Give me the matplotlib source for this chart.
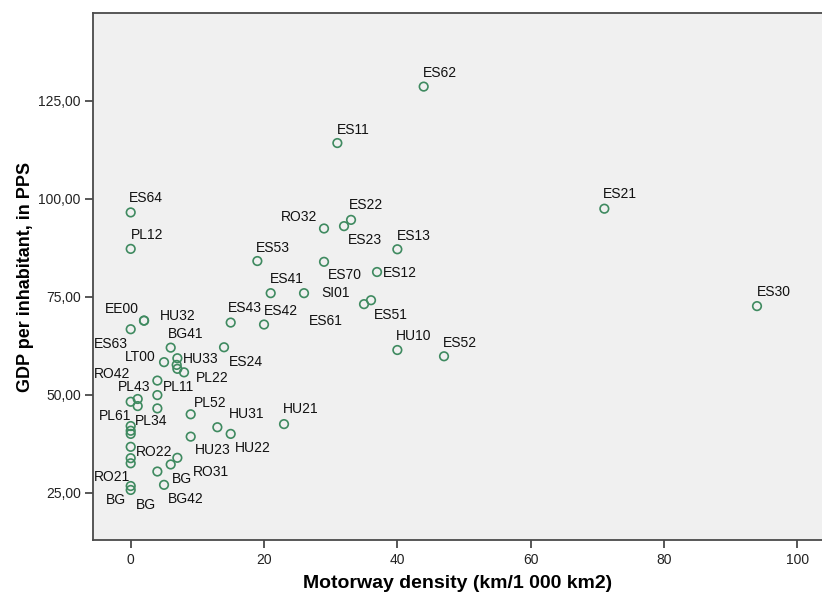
import matplotlib
matplotlib.use("Agg")
import matplotlib.pyplot as plt
from matplotlib.ticker import FuncFormatter, FixedLocator

# ---- data (motorway density, GDP per inhabitant in PPS) ----
regions = ["ES62", "ES11", "ES21", "ES30", "ES22", "ES23", "RO32", "ES13", "ES53", "ES70",
           "ES12", "ES41", "SI01", "ES51", "ES61", "ES43", "ES42", "HU10", "ES52", "ES64",
           "PL12", "EE00", "HU32", "ES63", "BG41", "ES24", "LT00", "HU33", "", "",
           "PL22", "RO42", "PL11", "PL43", "PL61", "PL34", "", "PL52", "HU31", "HU21",
           "HU23", "HU22", "", "", "", "RO22", "", "RO21", "RO31", "BG",
           "", "BG42", "BG", "BG"]
motorway_density = [43.95, 31.0, 71.05, 93.95, 33.05, 32.0, 29.0, 40.0, 19.0, 29.0,
                    36.95, 21.0, 26.0, 36.05, 35.0, 15.0, 20.0, 40.0, 47.0, 0.0,
                    0.0, 2.0, 2.0, 0.0, 6.0, 14.0, 5.0, 7.0, 6.9, 7.0,
                    8.0, 4.0, 4.0, 1.05, 0.0, 1.05, 4.0, 9.0, 13.0, 23.0,
                    9.0, 15.0, 0.0, 0.0, 0.0, 0.0, 0.0, 0.0, 7.0, 6.0,
                    4.0, 5.0, 0.0, 0.0]
gdp_pps = [128.6, 114.2, 97.45, 72.6, 94.6, 93.0, 92.4, 87.1, 84.1, 83.9,
           81.3, 75.9, 75.9, 74.1, 73.1, 68.4, 67.9, 61.4, 59.8, 96.5,
           87.2, 68.9, 68.9, 66.7, 62.0, 62.1, 58.3, 59.3, 57.6, 56.6,
           55.7, 53.6, 49.9, 48.9, 48.2, 47.1, 46.5, 45.0, 41.7, 42.5,
           39.3, 40.0, 42.0, 40.8, 40.0, 36.7, 33.8, 32.5, 33.9, 32.2,
           30.4, 27.0, 26.7, 25.7]

x_ticks = [0, 20, 40, 60, 80, 100]
y_ticks = [25, 50, 75, 100, 125]

# label placement (pixel offsets of label from its point: left edge, cap-centre; y up)
label_dx = [-0.4, -0.6, -1.0, -0.3, -1.7, 3.7, -43.3, -0.6, -1.3, 4.3,
            5.7, -0.7, 17.7, 3.3, -55.0, -2.4, -0.4, -1.6, -1.3, -1.4,
            0.0, -39.0, 16.0, -36.7, -2.4, 4.6, -39.0, 5.4, 0, 0,
            11.7, -63.3, 5.4, -19.4, -31.7, -2.7, 0, 3.6, 12.0, -1.6,
            4.3, 4.3, 0, 0, 0, 5.0, 0, -36.7, 16.0, 1.0,
            0, 4.3, -25.0, 5.0]
label_dy = [15.0, 14.0, 15.4, 15.3, 15.4, -13.0, 12.6, 14.3, 14.3, -12.6,
            0.0, 15.0, 1.0, -13.7, -16.0, 15.4, 15.0, 14.7, 14.6, 15.0,
            14.7, 12.4, 5.7, -13.4, 15.0, -13.7, 6.3, 0.0, 0, 0,
            -5.0, 7.4, 9.0, 13.0, -13.3, -14.0, 0, 12.0, 14.6, 15.7,
            -12.6, -12.7, 0, 0, 0, -4.0, 0, -13.0, -13.0, -13.3,
            0, -13.3, -13.3, -14.0]

plt.rcParams['font.family'] = ['Liberation Sans', 'DejaVu Sans']

W, H = 822, 596
fig = plt.figure(figsize=(W / 100, H / 100), dpi=100)
fig.patch.set_facecolor('white')
left_px, right_px, top_px, bottom_px = 93.3, 822.0, 13.3, 540.0
ax = fig.add_axes([left_px / W, 1 - bottom_px / H,
                   (right_px - left_px) / W, (bottom_px - top_px) / H])
ax.set_facecolor('#f0f0f0')

ax.scatter(motorway_density, gdp_pps, s=38, facecolors='none',
           edgecolors='#3f8a60', linewidths=1.2, zorder=3)

for name, xv, yv, dx, dy in zip(regions, motorway_density, gdp_pps, label_dx, label_dy):
    if name:
        ax.annotate(name, (xv, yv), xytext=(dx, dy - 5), textcoords='offset pixels',
                    ha='left', va='baseline', fontsize=10, color='#111111', zorder=4,
                    annotation_clip=False)

ax.set_xlim(-5.61, 103.7)
ax.set_ylim(12.93, 147.3)
ax.xaxis.set_major_locator(FixedLocator(x_ticks))
ax.yaxis.set_major_locator(FixedLocator(y_ticks))
ax.yaxis.set_major_formatter(FuncFormatter(lambda v, p: f"{v:.2f}".replace('.', ',')))

for side in ['left', 'bottom', 'top']:
    ax.spines[side].set_color('#4a4a4a')
    ax.spines[side].set_linewidth(1.3)
ax.spines['right'].set_visible(False)
ax.tick_params(axis='both', direction='out', length=6, width=1.3, color='#4a4a4a',
               labelsize=10, labelcolor='#222222', pad=3)

ax.set_xlabel("Motorway density (km/1 000 km2)", fontsize=14, fontweight='bold',
              labelpad=6)
ax.set_ylabel("GDP per inhabitant, in PPS", fontsize=13, fontweight='bold', labelpad=3)

fig.savefig("out.png", dpi=100, facecolor='white')
